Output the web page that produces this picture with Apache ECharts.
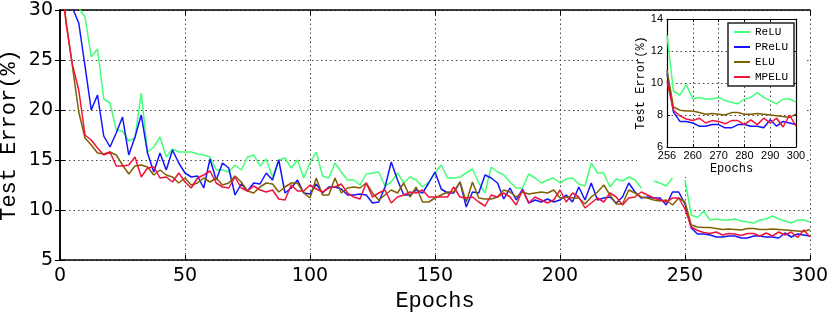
<!DOCTYPE html>
<html><head><meta charset="utf-8">
<script src="https://cdn.jsdelivr.net/npm/echarts@6/dist/echarts.min.js"></script>
<style>html,body{margin:0;padding:0;background:#fff}#c{width:830px;height:316px}</style>
</head><body><div id="c"></div>
<script>
// test evaluation every 2.5 epochs, epochs 0..300
const SAMPLE_STEP = 2.5;
const seriesNames = ['ReLU', 'PReLU', 'ELU', 'MPELU'];
const relu = [42,37,32.5,30.2,29.3,25.3,26.1,21.1,20.7,18.0,
 17.9,16.9,17.2,21.7,15.8,16.3,17.3,15.3,16.1,15.8,
 15.8,15.8,15.6,15.5,15.3,14.0,14.0,13.8,14.5,14.0,
 15.3,15.5,14.4,15.1,13.3,15.0,15.2,14.2,15.0,13.2,
 14.7,15.8,13.4,13.2,14.7,13.8,13.0,13.0,12.5,13.6,
 13.7,13.8,12.4,12.8,13.7,12.7,13.3,13.0,12.3,12.8,
 13.7,14.5,13.2,13.2,13.3,13.7,14.1,12.7,11.7,14.3,
 13.8,13.5,12.8,12.2,12.2,13.6,13.2,12.7,13.0,13.2,
 12.7,13.1,13.2,12.6,12.4,14.7,13.7,13.7,12.3,13.1,
 12.9,13.3,13.0,12.2,null,12.9,12.7,12.4,13.2,null,
 13.0,9.5,9.25,9.9,9.0,9.1,9.0,9.0,9.1,8.9,
 8.8,8.7,9.0,9.1,9.4,9.1,8.9,8.7,9.0,9.0,
 8.8];
const prelu = [36,32.5,30.2,28.7,24.4,20.0,21.5,17.4,16.3,17.7,
 19.3,15.5,17.3,19.5,15.7,13.8,15.7,14.0,16.0,14.7,
 13.7,13.3,13.4,12.2,15.1,13.0,14.7,14.2,11.5,12.6,
 11.9,12.7,12.6,13.7,13.0,15.0,11.7,12.2,13.0,11.7,
 11.6,12.6,11.7,12.3,12.3,12.1,11.5,11.5,11.6,11.5,
 10.7,10.8,12.3,14.8,13.0,11.5,11.5,12.0,11.7,12.7,
 13.8,12.1,11.7,11.7,12.8,10.3,11.8,11.7,13.5,13.2,
 12.7,11.1,12.2,11.0,12.1,10.7,11.0,10.8,11.1,10.8,
 11.0,11.5,10.8,12.3,11.0,12.7,11.0,11.2,11.3,10.7,
 11.3,12.7,11.8,11.2,11.3,11.2,11.2,10.5,11.8,11.8,
 10.6,8.2,7.6,7.6,7.5,7.3,7.3,7.4,7.4,7.2,
 7.2,7.4,7.4,7.3,7.3,7.2,7.7,7.3,7.6,7.5,
 7.4];
const elu = [34,28.8,24.3,19.8,17.2,16.5,15.7,15.6,15.8,15.5,
 14.5,13.6,14.4,14.5,14.3,13.5,14.0,13.5,13.3,12.7,
 13.2,12.5,12.7,13.2,12.8,13.2,12.5,12.7,13.4,12.8,
 11.9,11.7,12.3,12.7,12.6,11.8,12.3,12.7,12.7,11.7,
 11.2,13.2,11.5,11.5,13.2,11.7,12.2,12.3,12.2,12.7,
 11.7,11.0,11.5,12.0,11.7,12.7,11.3,12.3,10.8,10.8,
 11.2,11.5,11.8,11.8,12.8,10.8,12.8,11.2,11.1,11.1,
 11.3,12.0,11.8,11.3,11.8,11.6,11.7,11.8,11.7,12.0,
 11.2,11.3,11.2,11.2,10.6,11.3,11.8,12.5,11.5,10.6,
 10.6,12.0,11.7,11.3,11.2,11.0,10.9,11.0,10.5,11.2,
 10.8,8.5,8.3,8.25,8.25,8.15,8.05,8.1,8.05,8.0,
 8.15,8.15,8.05,8.05,8.1,8.05,8.0,7.95,7.9,7.85,
 8.05];
const mpelu = [34,28.5,24.5,22.0,17.5,17.0,16.2,15.5,15.8,14.4,
 14.4,14.5,15.3,13.3,14.2,14.3,13.2,13.3,12.8,13.7,
 12.8,12.2,13.2,13.5,13.9,12.7,12.3,12.2,13.3,12.2,
 11.9,12.4,12.0,11.8,12.0,11.1,11.0,12.5,11.9,11.9,
 12.5,12.1,11.8,12.2,12.3,12.6,11.7,11.3,11.1,12.7,
 11.3,11.7,12.0,10.7,11.3,11.5,11.8,11.7,12.0,11.3,
 11.3,11.3,11.3,12.3,11.3,11.2,11.3,10.8,10.4,11.5,
 11.3,11.7,11.3,10.5,12.0,10.7,11.3,11.0,10.7,11.0,
 12.0,10.8,11.7,11.3,10.2,10.7,11.2,10.8,11.7,11.3,
 10.5,11.2,11.3,11.8,11.5,11.2,11.0,10.8,11.2,11.2,
 10.1,8.3,7.95,7.75,7.65,7.8,7.5,7.65,7.6,7.45,
 7.65,7.65,7.4,7.7,7.4,7.8,7.5,7.8,7.25,8.0,
 7.3];
const insetXTickLabels = {250: '256', 260: '260', 270: '270', 280: '280', 290: '290', 300: '300'};

const colors = ['#44ff77', '#1414ff', '#7f5f00', '#f0143c'];
const allValues = [relu, prelu, elu, mpelu];
const toPairs = vals => vals.map((v, i) => [i * SAMPLE_STEP, v === null ? '-' : v]);
const INSET_START = 250;

const gridLine = {show: true, lineStyle: {type: [1.5, 3], color: '#444', width: 1}};
const monoName = {fontFamily: 'Liberation Mono', fontSize: 22, color: '#000'};

function frameAxis(base, extra) { return Object.assign({}, base, extra); }

const mainX = {gridIndex: 0, type: 'value', min: 0, max: 300, interval: 50,
  axisLine: {show: true, lineStyle: {color: '#000', width: 1.5}},
  axisTick: {show: true, inside: true, length: 5, lineStyle: {color: '#000', width: 1}}};
const mainY = {gridIndex: 0, type: 'value', min: 5, max: 30, interval: 5,
  axisLine: {show: true, lineStyle: {color: '#000', width: 1.5}},
  axisTick: {show: true, inside: true, length: 5, lineStyle: {color: '#000', width: 1}}};
const insX = {gridIndex: 1, type: 'value', min: 250, max: 300, interval: 10, z: 10,
  axisLine: {show: true, lineStyle: {color: '#000', width: 1.2}},
  axisTick: {show: true, inside: true, length: 3, lineStyle: {color: '#000', width: 1}}};
const insY = {gridIndex: 1, type: 'value', min: 6, max: 14, interval: 2, z: 10,
  axisLine: {show: true, lineStyle: {color: '#000', width: 1.2}},
  axisTick: {show: true, inside: true, length: 3, lineStyle: {color: '#000', width: 1}}};

const series = [];
allValues.forEach((vals, k) => {
  series.push({name: seriesNames[k], type: 'line', xAxisIndex: 0, yAxisIndex: 0,
    data: toPairs(vals), showSymbol: false, symbol: 'none', z: 2 + k * 0.01,
    lineStyle: {color: colors[k], width: 1.5}, itemStyle: {color: colors[k]}});
});
allValues.forEach((vals, k) => {
  series.push({name: seriesNames[k], type: 'line', xAxisIndex: 2, yAxisIndex: 2,
    data: toPairs(vals).filter(p => p[0] >= INSET_START), showSymbol: false, symbol: 'none', z: 11,
    lineStyle: {color: colors[k], width: 1.5}, itemStyle: {color: colors[k]}});
});

const option = {
  animation: false,
  backgroundColor: '#fff',
  grid: [
    {left: 60, top: 10, right: 20, bottom: 56, outerBoundsMode: 'none', containLabel: false},
    {left: 667, top: 19, width: 129, height: 128, outerBoundsMode: 'none', containLabel: false}
  ],
  graphic: {elements: [{type: 'rect', z: 5, shape: {x: 637, y: 11, width: 169, height: 166}, style: {fill: '#fff'}}]},
  xAxis: [
    frameAxis(mainX, {position: 'bottom', splitLine: gridLine,
      axisLabel: {fontFamily: 'DejaVu Sans', fontSize: 19, color: '#000', margin: 7},
      name: 'Epochs', nameLocation: 'middle', nameGap: 30, nameMoveOverlap: false, nameTextStyle: monoName}),
    frameAxis(mainX, {position: 'top', splitLine: {show: false}, axisLabel: {show: false}}),
    frameAxis(insX, {position: 'bottom', splitLine: gridLine,
      axisLabel: {fontFamily: 'Liberation Sans', fontSize: 11, color: '#000', margin: 3,
        formatter: v => insetXTickLabels[v] !== undefined ? insetXTickLabels[v] : String(v)},
      name: 'Epochs', nameLocation: 'middle', nameGap: 16, nameMoveOverlap: false,
      nameTextStyle: {fontFamily: 'Liberation Mono', fontSize: 12, color: '#000'}}),
    frameAxis(insX, {position: 'top', splitLine: {show: false}, axisLabel: {show: false}})
  ],
  yAxis: [
    frameAxis(mainY, {position: 'left', splitLine: gridLine,
      axisLabel: {fontFamily: 'DejaVu Sans', fontSize: 19, color: '#000', margin: 7},
      name: 'Test Error(%)', nameLocation: 'middle', nameGap: 40, nameRotate: 90, nameMoveOverlap: false, nameTextStyle: monoName}),
    frameAxis(mainY, {position: 'right', splitLine: {show: false}, axisLabel: {show: false}}),
    frameAxis(insY, {position: 'left', splitLine: gridLine,
      axisLabel: {fontFamily: 'Liberation Sans', fontSize: 11, color: '#000', margin: 4},
      name: 'Test Error(%)', nameLocation: 'middle', nameGap: 20, nameRotate: 90, nameMoveOverlap: false,
      nameTextStyle: {fontFamily: 'Liberation Mono', fontSize: 12, color: '#000'}}),
    frameAxis(insY, {position: 'right', splitLine: {show: false}, axisLabel: {show: false}})
  ],
  legend: {
    data: seriesNames, orient: 'vertical', left: 728, top: 23, z: 12,
    icon: 'rect', itemWidth: 16, itemHeight: 2, itemGap: 3,
    padding: [3, 6, 3, 6], borderColor: '#222', borderWidth: 1.5, backgroundColor: '#fff', borderRadius: 0,
    textStyle: {fontFamily: 'Liberation Mono', fontSize: 11, color: '#000', lineHeight: 12}
  },
  series: series
};
const chart = echarts.init(document.getElementById('c'), null, {renderer: 'canvas'});
chart.setOption(option);
</script></body></html>
